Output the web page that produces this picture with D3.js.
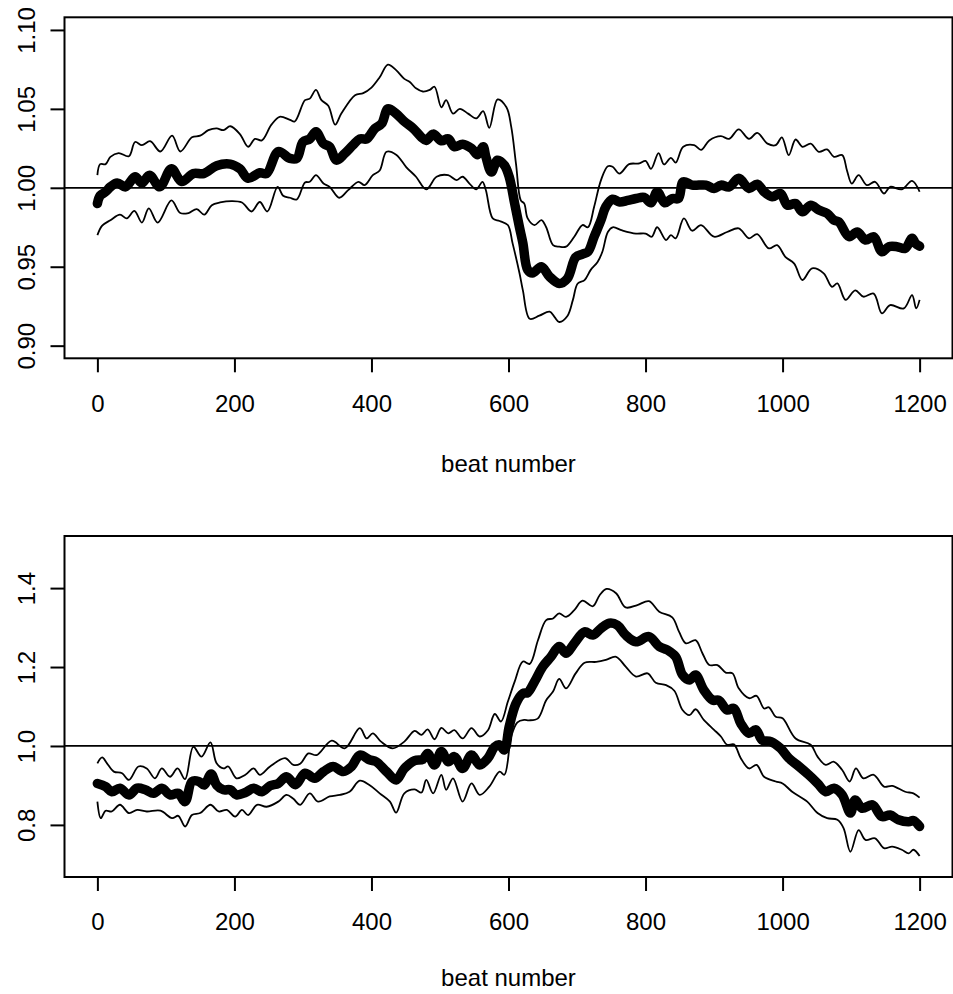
<!DOCTYPE html>
<html>
<head>
<meta charset="utf-8">
<script src="https://cdn.jsdelivr.net/npm/d3@7"></script>
<style>
  html, body { margin: 0; padding: 0; background: #fff; }
  svg { display: block; font-family: "Liberation Sans", Arial, Helvetica, sans-serif; }
</style>
</head>
<body>
<div id="chart"></div>
<script>
// beat number ticks and y ticks
const beatTicks = [0, 200, 400, 600, 800, 1000, 1200];
const topTicks = [0.90, 0.95, 1.00, 1.05, 1.10];
const bottomTicks = [0.8, 1.0, 1.2, 1.4];

// top panel: [beat, ratio]
const topMean = [
  [0,0.990],[4,0.995],[12,0.9975],[19,1.0006],[29,1.003],[41,1.0006],[55,1.007],[65,1.003],[76,1.008],[91,1.0006],
  [108,1.012],[123,1.004],[140,1.009],[155,1.009],[174,1.014],[194,1.015],[208,1.012],[220,1.006],[237,1.0095],[247,1.009],
  [264,1.023],[281,1.0186],[291,1.0186],[300,1.029],[310,1.031],[319,1.0355],[330,1.028],[339,1.026],[349,1.0175],[361,1.0217],
  [373,1.027],[383,1.031],[393,1.031],[405,1.0376],[415,1.0407],[424,1.050],[436,1.047],[448,1.042],[461,1.0376],[473,1.032],
  [480,1.030],[490,1.034],[502,1.0298],[512,1.031],[521,1.026],[533,1.0276],[546,1.025],[555,1.021],[563,1.026],[567,1.0196],
  [575,1.010],[584,1.0175],[594,1.0143],[601,1.007],[609,0.990],[616,0.975],[621,0.965],[628,0.948],[635,0.946],[648,0.950],
  [660,0.9437],[674,0.9394],[686,0.9426],[698,0.956],[708,0.958],[716,0.9595],[725,0.969],[735,0.9795],[742,0.988],[752,0.9928],
  [762,0.991],[774,0.992],[786,0.9932],[798,0.9939],[808,0.9905],[817,0.9975],[828,0.9905],[839,0.9932],[848,0.9932],[855,1.0038],
  [868,1.0017],[888,1.0017],[900,0.9996],[910,1.0017],[922,1.0006],[936,1.006],[951,0.9996],[963,1.0023],[973,0.9975],[985,0.9943],
  [997,0.9964],[1007,0.989],[1019,0.990],[1029,0.9848],[1041,0.989],[1053,0.9859],[1065,0.9838],[1075,0.9795],[1082,0.9785],[1097,0.969],
  [1109,0.972],[1121,0.9669],[1133,0.969],[1145,0.9595],[1155,0.9627],[1167,0.9627],[1179,0.9616],[1189,0.968],[1194,0.9648],[1200,0.963]
];
const topUpper = [
  [0,1.008],[4,1.015],[12,1.015],[19,1.0196],[31,1.022],[46,1.020],[55,1.029],[65,1.027],[77,1.0295],[92,1.023],
  [109,1.033],[121,1.023],[138,1.032],[150,1.033],[162,1.0365],[174,1.0376],[184,1.0365],[194,1.039],[208,1.034],[220,1.026],
  [230,1.031],[240,1.030],[254,1.040],[266,1.045],[281,1.043],[288,1.042],[303,1.0555],[310,1.0565],[319,1.062],[327,1.0555],
  [337,1.052],[347,1.040],[356,1.047],[376,1.0587],[388,1.060],[400,1.0635],[412,1.070],[424,1.078],[436,1.0745],[448,1.069],
  [456,1.067],[465,1.063],[475,1.061],[485,1.062],[492,1.064],[502,1.051],[509,1.0555],[519,1.047],[529,1.050],[541,1.047],
  [553,1.044],[563,1.0485],[572,1.038],[584,1.056],[597,1.051],[604,1.0386],[611,1.015],[618,0.992],[623,0.990],[628,0.9806],
  [638,0.9764],[648,0.9795],[655,0.975],[665,0.9637],[674,0.9627],[684,0.9627],[696,0.969],[708,0.9764],[716,0.975],[725,0.988],
  [735,1.0049],[745,1.0137],[752,1.0133],[762,1.009],[776,1.015],[791,1.0154],[800,1.017],[808,1.012],[819,1.022],[827,1.0148],
  [837,1.019],[844,1.016],[855,1.026],[871,1.027],[881,1.024],[893,1.030],[910,1.0327],[922,1.031],[936,1.037],[951,1.031],
  [963,1.0348],[978,1.028],[990,1.027],[999,1.032],[1009,1.0207],[1019,1.0306],[1029,1.026],[1041,1.028],[1053,1.0228],[1065,1.0243],
  [1075,1.0196],[1087,1.0207],[1094,1.011],[1101,1.0027],[1111,1.008],[1123,1.0017],[1135,1.0038],[1148,0.9964],[1157,1.0006],[1174,0.999],
  [1189,1.0044],[1200,0.9975]
];
const topLower = [
  [0,0.970],[7,0.976],[19,0.9795],[33,0.983],[43,0.9806],[54,0.9854],[65,0.978],[75,0.987],[88,0.978],[108,0.992],
  [121,0.984],[133,0.984],[145,0.9865],[156,0.983],[167,0.989],[179,0.9907],[196,0.9916],[211,0.9907],[225,0.985],[237,0.991],
  [248,0.985],[263,1.0006],[271,0.995],[281,0.9937],[291,0.9926],[303,1.0034],[310,1.0038],[319,1.008],[330,1.0027],[339,1.0006],
  [353,0.9937],[366,0.9985],[381,1.0038],[390,1.0017],[402,1.008],[412,1.011],[422,1.0228],[436,1.021],[451,1.013],[465,1.007],
  [480,0.999],[495,1.007],[512,1.008],[524,1.0049],[533,1.007],[543,1.0027],[553,0.999],[562,1.0038],[567,0.9985],[577,0.9806],
  [587,0.979],[599,0.9764],[606,0.9648],[616,0.946],[621,0.935],[631,0.917],[645,0.919],[660,0.9215],[667,0.9183],[674,0.915],
  [686,0.9188],[694,0.929],[701,0.9394],[711,0.9415],[720,0.948],[730,0.953],[737,0.9595],[745,0.972],[752,0.975],[766,0.973],
  [786,0.971],[800,0.971],[809,0.969],[817,0.975],[830,0.9669],[837,0.970],[844,0.968],[856,0.9806],[868,0.9728],[881,0.9764],
  [900,0.969],[919,0.972],[936,0.9743],[951,0.968],[963,0.9707],[980,0.9616],[992,0.9637],[1004,0.9563],[1017,0.952],[1029,0.9416],
  [1043,0.949],[1060,0.9458],[1072,0.9373],[1080,0.9394],[1092,0.929],[1106,0.935],[1118,0.931],[1133,0.933],[1145,0.9204],[1157,0.9257],
  [1177,0.9236],[1189,0.932],[1195,0.9236],[1200,0.929]
];

// bottom panel: [beat, ratio]
const bottomMean = [
  [0,0.905],[12,0.897],[21,0.884],[33,0.893],[46,0.876],[58,0.893],[70,0.889],[82,0.880],[94,0.893],[106,0.876],
  [118,0.880],[128,0.859],[138,0.910],[148,0.910],[156,0.901],[166,0.929],[174,0.901],[184,0.889],[194,0.889],[203,0.876],
  [216,0.882],[228,0.893],[240,0.884],[252,0.899],[264,0.905],[276,0.922],[289,0.902],[303,0.931],[317,0.918],[330,0.935],
  [344,0.948],[359,0.935],[371,0.948],[383,0.977],[397,0.965],[407,0.960],[422,0.935],[436,0.914],[448,0.943],[463,0.963],
  [475,0.966],[482,0.981],[492,0.952],[502,0.986],[512,0.960],[521,0.973],[533,0.943],[546,0.977],[558,0.952],[570,0.969],
  [580,0.998],[587,1.003],[594,0.990],[601,1.049],[611,1.108],[621,1.133],[628,1.135],[638,1.163],[650,1.201],[662,1.226],
  [674,1.252],[684,1.235],[696,1.260],[711,1.289],[723,1.281],[735,1.298],[747,1.311],[759,1.306],[771,1.281],[786,1.264],
  [805,1.277],[820,1.252],[832,1.243],[844,1.226],[854,1.180],[864,1.167],[873,1.180],[885,1.142],[898,1.116],[907,1.116],
  [919,1.091],[929,1.095],[939,1.057],[951,1.032],[961,1.041],[970,1.015],[983,1.011],[997,0.994],[1009,0.969],[1024,0.948],
  [1038,0.927],[1051,0.9055],[1063,0.884],[1075,0.893],[1087,0.876],[1099,0.830],[1106,0.863],[1116,0.842],[1131,0.851],[1145,0.821],
  [1157,0.825],[1169,0.813],[1184,0.808],[1191,0.811],[1200,0.796]
];
const bottomUpper = [
  [0,0.956],[7,0.971],[14,0.956],[24,0.935],[36,0.931],[46,0.914],[60,0.948],[72,0.943],[84,0.918],[94,0.943],
  [106,0.922],[117,0.943],[128,0.916],[140,0.998],[152,0.973],[165,1.009],[174,0.956],[184,0.943],[191,0.948],[203,0.918],
  [216,0.927],[228,0.943],[237,0.927],[252,0.948],[274,0.969],[286,0.952],[296,0.955],[308,0.981],[320,0.977],[342,1.0135],
  [361,0.994],[383,1.045],[393,1.019],[402,1.032],[414,1.011],[431,0.994],[448,1.011],[463,1.038],[473,1.028],[482,1.042],
  [492,1.017],[502,1.046],[512,1.032],[521,1.040],[533,1.019],[546,1.045],[558,1.024],[570,1.040],[580,1.081],[589,1.062],
  [599,1.112],[609,1.163],[621,1.214],[631,1.208],[643,1.268],[655,1.319],[665,1.323],[674,1.336],[684,1.327],[696,1.344],
  [708,1.368],[723,1.354],[733,1.382],[743,1.398],[757,1.387],[771,1.351],[788,1.357],[805,1.367],[820,1.340],[839,1.326],
  [849,1.289],[859,1.260],[873,1.268],[883,1.235],[893,1.205],[905,1.205],[917,1.186],[927,1.184],[936,1.146],[951,1.121],
  [962,1.127],[973,1.095],[980,1.098],[990,1.074],[1000,1.070],[1019,1.019],[1041,1.003],[1051,0.973],[1063,0.952],[1075,0.960],
  [1087,0.939],[1098,0.910],[1107,0.943],[1118,0.918],[1133,0.927],[1148,0.897],[1160,0.899],[1179,0.884],[1191,0.880],[1200,0.869]
];
const bottomLower = [
  [0,0.859],[5,0.817],[12,0.836],[21,0.834],[33,0.851],[46,0.830],[58,0.838],[72,0.834],[92,0.836],[109,0.817],
  [118,0.823],[128,0.796],[138,0.825],[150,0.830],[165,0.851],[177,0.834],[189,0.838],[201,0.821],[211,0.838],[220,0.825],
  [233,0.851],[247,0.846],[264,0.859],[276,0.876],[286,0.866],[296,0.851],[310,0.880],[322,0.859],[339,0.872],[354,0.876],
  [368,0.884],[383,0.912],[397,0.901],[412,0.880],[427,0.859],[436,0.831],[448,0.880],[463,0.890],[473,0.882],[480,0.914],
  [490,0.880],[502,0.927],[509,0.889],[519,0.918],[533,0.859],[546,0.905],[558,0.876],[572,0.897],[587,0.935],[594,0.927],
  [604,1.024],[613,1.060],[623,1.066],[630,1.065],[643,1.070],[655,1.116],[665,1.138],[674,1.170],[684,1.146],[698,1.184],
  [711,1.211],[728,1.213],[742,1.218],[757,1.226],[771,1.201],[786,1.176],[803,1.184],[815,1.160],[830,1.154],[842,1.140],
  [854,1.091],[864,1.078],[873,1.093],[885,1.066],[900,1.041],[910,1.024],[919,1.003],[929,1.004],[939,0.969],[951,0.943],
  [962,0.952],[973,0.922],[990,0.910],[1000,0.905],[1014,0.884],[1036,0.859],[1051,0.830],[1065,0.817],[1080,0.813],[1089,0.792],
  [1099,0.732],[1111,0.787],[1121,0.762],[1135,0.766],[1148,0.741],[1160,0.745],[1174,0.737],[1184,0.728],[1191,0.737],[1200,0.721]
];

const W = 953, H = 994;
const FONT = 24;

const svg = d3.select('#chart').append('svg')
  .attr('width', W).attr('height', H)
  .attr('viewBox', `0 0 ${W} ${H}`);

const panels = [
  { id: 'p1', top: 17.3, bottom: 358.3, titleY: 471.5, ylim: [0.9, 1.1], ticks: topTicks, fmt: d3.format('.2f'),
    mean: topMean, upper: topUpper, lower: topLower },
  { id: 'p2', top: 536, bottom: 877, titleY: 986, ylim: [0.7, 1.5], ticks: bottomTicks, fmt: d3.format('.1f'),
    mean: bottomMean, upper: bottomUpper, lower: bottomLower },
];

function drawPanel(p) {
  const left = 64.5, right = 952.5;
  // R-style 4% axis extension
  const x = d3.scaleLinear().domain([-48, 1248]).range([left, right]);
  const pad = (p.ylim[1] - p.ylim[0]) * 0.04;
  const y = d3.scaleLinear().domain([p.ylim[0] - pad, p.ylim[1] + pad]).range([p.bottom, p.top]);

  svg.append('clipPath').attr('id', 'clip-' + p.id)
    .append('rect')
    .attr('x', left).attr('y', p.top)
    .attr('width', right - left).attr('height', p.bottom - p.top);

  const g = svg.append('g').attr('clip-path', `url(#clip-${p.id})`);

  const line = d3.line()
    .x(d => x(d[0]))
    .y(d => y(d[1]))
    .curve(d3.curveCatmullRom.alpha(0.5));

  [p.upper, p.lower].forEach(s => {
    g.append('path')
      .attr('d', line(s))
      .attr('fill', 'none')
      .attr('stroke', '#000')
      .attr('stroke-width', 1.8)
      .attr('stroke-linejoin', 'round');
  });

  g.append('line')
    .attr('x1', left).attr('x2', right)
    .attr('y1', y(1)).attr('y2', y(1))
    .attr('stroke', '#000').attr('stroke-width', 1.8);

  g.append('path')
    .attr('d', line(p.mean))
    .attr('fill', 'none')
    .attr('stroke', '#000')
    .attr('stroke-width', 9.5)
    .attr('stroke-linecap', 'round')
    .attr('stroke-linejoin', 'round');

  svg.append('rect')
    .attr('x', left).attr('y', p.top)
    .attr('width', right - left).attr('height', p.bottom - p.top)
    .attr('fill', 'none').attr('stroke', '#000').attr('stroke-width', 2);

  // x axis
  const ax = svg.append('g')
    .attr('transform', `translate(0,${p.bottom})`)
    .call(d3.axisBottom(x).tickValues(beatTicks).tickSize(14).tickSizeOuter(0).tickFormat(d3.format('d')));
  ax.select('.domain').remove();
  ax.selectAll('.tick line').attr('stroke-width', 2);
  ax.selectAll('.tick text')
    .attr('y', 53.3).attr('dy', null)
    .attr('font-size', FONT).attr('font-family', null).attr('fill', '#000');

  // y axis, rotated labels as in R
  const ay = svg.append('g')
    .attr('transform', `translate(${left},0)`)
    .call(d3.axisLeft(y).tickValues(p.ticks).tickSize(14).tickSizeOuter(0).tickFormat(p.fmt));
  ay.select('.domain').remove();
  ay.selectAll('.tick line').attr('stroke-width', 2);
  ay.selectAll('.tick text')
    .attr('x', 0).attr('dy', null)
    .attr('text-anchor', 'middle')
    .attr('transform', 'translate(-29.5,0) rotate(-90)')
    .attr('font-size', FONT).attr('font-family', null).attr('fill', '#000');

  svg.append('text')
    .attr('x', (left + right) / 2)
    .attr('y', p.titleY)
    .attr('text-anchor', 'middle')
    .attr('font-size', FONT)
    .text('beat number');
}

panels.forEach(drawPanel);
</script>
</body>
</html>
